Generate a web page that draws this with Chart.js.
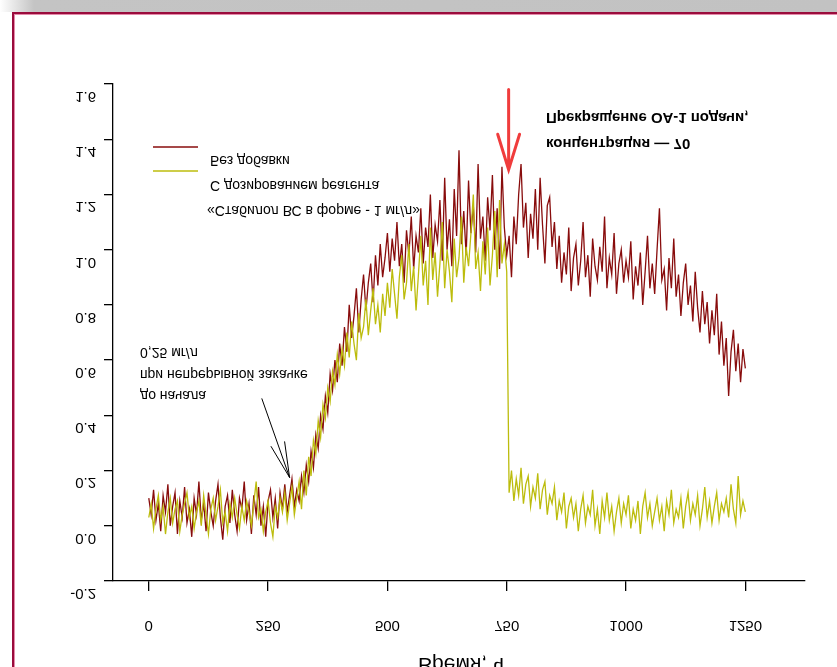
<!DOCTYPE html>
<html lang="ru">
<head>
<meta charset="utf-8">
<title>Оптическая плотность</title>
<script src="https://cdn.jsdelivr.net/npm/chart.js@4/dist/chart.umd.min.js"></script>
<style>
  html, body { margin: 0; padding: 0; background: #fff; overflow: hidden; }
  #band { position: absolute; left: 0; top: 0; width: 837px; height: 12px;
          background: linear-gradient(to right, #fff 0px, #c4c4c4 34px, #c2c2c2 100%); }
  #frame { position: absolute; left: 12px; top: 12px; width: 840px; height: 670px;
           border-left: 2px solid #9a0c3c; border-top: 2px solid #9a0c3c;
           box-shadow: inset 1px 1px 0 #e48aaa; background: #fff; }
  #wrap { position: absolute; left: 0; top: 0; width: 837px; height: 667px; }
</style>
</head>
<body>
<div id="band"></div>
<div id="frame"></div>
<div id="wrap"><canvas id="chart" width="837" height="667"></canvas></div>
<script>
const STEP_H = 5;                       // шаг записи, ч
const X_TICKS = [0, 250, 500, 750, 1000, 1250];
const Y_TICKS = [-0.2, 0.0, 0.2, 0.4, 0.6, 0.8, 1.0, 1.2, 1.4, 1.6];

// без добавки
const BLANK = [
  0.10, 0.04, 0.13, 0.02, 0.08, -0.02, 0.11, 0.05, 0.15, 0.00,
  0.07, 0.12, -0.03, 0.09, 0.03, 0.14, 0.01, 0.06, -0.04, 0.10,
  0.04, 0.16, 0.02, 0.08, -0.02, 0.12, 0.05, 0.00, 0.09, 0.15,
  0.03, -0.05, 0.07, 0.11, 0.01, 0.13, 0.04, -0.02, 0.10, 0.06,
  0.16, 0.02, 0.08, -0.03, 0.11, 0.04, 0.14, 0.00, 0.07, -0.04,
  0.09, 0.13, 0.03, 0.10, -0.01, 0.12, 0.06, 0.15, 0.05, 0.11,
  0.17, 0.07, 0.13, 0.09, 0.18, 0.12, 0.22, 0.16, 0.27, 0.21,
  0.33, 0.28, 0.40, 0.35, 0.47, 0.41, 0.55, 0.49, 0.60, 0.52,
  0.66, 0.58, 0.72, 0.63, 0.80, 0.68, 0.76, 0.86, 0.70, 0.82,
  0.91, 0.78, 0.88, 0.95, 0.81, 0.98, 0.87, 1.02, 0.90, 0.97,
  1.06, 0.92, 1.04, 0.96, 1.10, 0.94, 1.02, 0.88, 1.07, 0.98,
  1.12, 0.93, 1.05, 0.99, 1.15, 0.95, 1.08, 1.01, 1.20, 0.97,
  1.09, 1.03, 1.18, 0.96, 1.26, 1.00, 1.11, 0.94, 1.22, 1.05,
  1.36, 1.02, 1.14, 0.98, 1.25, 1.06, 1.16, 0.99, 1.31, 1.04,
  1.12, 0.96, 1.19, 1.07, 1.27, 1.00, 1.15, 0.93, 1.30, 1.08,
  0.98, 1.05, 0.90, 1.12, 1.02, 1.20, 1.31, 1.08, 1.17, 0.97,
  1.13, 1.04, 1.22, 1.00, 1.26, 1.09, 0.95, 1.16, 1.19, 1.01,
  1.10, 0.93, 1.05, 0.88, 0.99, 0.91, 1.08, 0.85, 0.97, 1.02,
  0.87, 0.96, 1.10, 0.90, 0.98, 0.83, 1.04, 0.94, 0.89, 1.01,
  0.92, 1.12, 0.86, 0.97, 0.91, 1.06, 0.84, 0.95, 1.00, 0.88,
  0.96, 0.90, 1.03, 0.82, 0.94, 0.87, 0.99, 0.80, 0.92, 1.05,
  0.86, 0.95, 0.84, 1.00, 1.15, 0.89, 0.93, 0.78, 0.97, 0.86,
  1.04, 0.83, 0.91, 0.76, 0.88, 0.95, 0.80, 0.87, 0.74, 0.92,
  0.79, 0.70, 0.85, 0.73, 0.81, 0.66, 0.78, 0.69, 0.84, 0.62,
  0.74, 0.58, 0.68, 0.47, 0.63, 0.71, 0.56, 0.66, 0.52, 0.64,
  0.57
];

// с дозированием реагента
const DOSED = [
  0.03, 0.08, -0.01, 0.06, 0.11, 0.02, 0.07, -0.03, 0.05, 0.10,
  0.01, 0.06, 0.09, -0.02, 0.04, 0.08, 0.12, 0.03, 0.07, -0.01,
  0.05, 0.09, 0.00, 0.11, 0.04, -0.03, 0.06, 0.10, 0.02, 0.07,
  0.13, 0.01, 0.05, -0.02, 0.08, 0.03, 0.10, 0.04, -0.01, 0.07,
  0.02, 0.09, 0.05, 0.00, 0.08, 0.16, 0.03, 0.06, -0.02, 0.05,
  0.09, 0.01, -0.04, 0.07, 0.03, 0.10, 0.05, 0.12, 0.02, 0.08,
  0.14, 0.04, 0.10, 0.16, 0.06, 0.20, 0.11, 0.25, 0.18, 0.31,
  0.26, 0.38, 0.32, 0.44, 0.39, 0.50, 0.45, 0.56, 0.51, 0.62,
  0.55, 0.64, 0.58, 0.70, 0.61, 0.74, 0.66, 0.60, 0.77, 0.68,
  0.72, 0.82, 0.69, 0.78, 0.86, 0.73, 0.80, 0.70, 0.84, 0.76,
  0.88, 0.79, 0.93, 0.84, 0.75, 0.90, 0.98, 0.82, 0.88, 1.02,
  0.85, 0.94, 0.78, 0.91, 1.05, 0.87, 0.96, 0.80, 1.08, 0.89,
  0.99, 0.83, 0.95, 1.10, 0.86, 1.00, 0.92, 0.81, 1.04, 0.90,
  0.97, 1.12, 0.88, 1.01, 0.94, 1.06, 1.20, 0.93, 0.99, 0.85,
  1.03, 0.91, 1.08, 0.87, 0.98, 1.14, 0.90, 1.18, 0.95, 1.02,
  0.92, 0.12, 0.20, 0.09, 0.17, 0.11, 0.21, 0.08, 0.15, 0.18,
  0.07, 0.14, 0.10, 0.19, 0.06, 0.13, 0.16, 0.04, 0.11, 0.08,
  0.14, 0.02, 0.09, 0.05, 0.12, -0.01, 0.07, 0.10, 0.03, 0.08,
  -0.02, 0.06, 0.11, 0.01, 0.07, 0.04, 0.13, 0.00, 0.06, -0.03,
  0.09, 0.03, 0.12, 0.02, 0.07, -0.02, 0.05, 0.10, 0.01, 0.08,
  0.04, 0.11, -0.01, 0.06, 0.02, 0.09, -0.03, 0.07, 0.12, 0.03,
  0.08, 0.00, 0.05, 0.10, 0.02, 0.07, -0.02, 0.09, 0.04, 0.13,
  0.01, 0.06, 0.03, 0.10, -0.01, 0.07, 0.12, 0.02, 0.08, 0.04,
  0.11, 0.00, 0.06, 0.14, 0.03, 0.09, 0.01, 0.07, 0.12, 0.02,
  0.08, 0.05, 0.10, 0.03, 0.15, 0.06, 0.01, 0.18, 0.04, 0.09,
  0.05
];

const SERIES_NAMES = ['Без добавки', 'С дозированием реагента', '«Стабилол ВС в форме - 1 мг/л»'];
const NOTE_LEFT = ['0,25 мг/л', 'при непрерывной закачке', 'до начала'];
const NOTE_RIGHT = ['Прекращение ОА-1 подачи,', 'концентрация — 70'];
const X_TITLE = 'Время, ч';

const COL = { blank: '#880c0c', dosed: '#bcbc0c', arrow: '#f03c3c', ink: '#000' };
const FONT = "'Liberation Sans', Arial, sans-serif";

const pts = arr => arr.map((v, i) => ({ x: i * STEP_H, y: v }));
const fixTicks = list => s => { s.ticks = list.map(v => ({ value: v })); };

// текст, отражённый по вертикали относительно своей средней линии
function flipText(ctx, text, x, y, font, align) {
    ctx.save();
    ctx.font = font;
    ctx.fillStyle = COL.ink;
    ctx.textAlign = align || 'left';
    ctx.textBaseline = 'middle';
    ctx.translate(x, y);
    ctx.scale(1, -1);
    ctx.fillText(text, 0, 0);
    ctx.restore();
}

function arrow(ctx, x0, y0, x1, y1, head, spread, color, width) {
    const a = Math.atan2(y1 - y0, x1 - x0);
    ctx.save();
    ctx.strokeStyle = color;
    ctx.lineWidth = width;
    ctx.lineCap = 'round';
    ctx.beginPath();
    ctx.moveTo(x0, y0); ctx.lineTo(x1, y1);
    ctx.moveTo(x1 - head * Math.cos(a - spread), y1 - head * Math.sin(a - spread));
    ctx.lineTo(x1, y1);
    ctx.lineTo(x1 - head * Math.cos(a + spread), y1 - head * Math.sin(a + spread));
    ctx.stroke();
    ctx.restore();
}

const decor = {
    id: 'decor',
    afterDraw(chart) {
        const { ctx, scales: { x, y } } = chart;
        const tickFont = '15px ' + FONT;

        Y_TICKS.forEach(v => flipText(ctx, v.toFixed(1), 96, y.getPixelForValue(v) + 12, tickFont, 'right'));
        X_TICKS.forEach(v => flipText(ctx, String(v), x.getPixelForValue(v), 625, tickFont, 'center'));
        flipText(ctx, X_TITLE, 461, 664, '21px ' + FONT, 'center');

        // легенда
        ctx.save();
        ctx.lineWidth = 1.5;
        ctx.strokeStyle = COL.blank;
        ctx.beginPath(); ctx.moveTo(153, 147); ctx.lineTo(198, 147); ctx.stroke();
        ctx.strokeStyle = COL.dosed;
        ctx.beginPath(); ctx.moveTo(153, 171); ctx.lineTo(198, 171); ctx.stroke();
        ctx.restore();
        const lf = '14px ' + FONT;
        flipText(ctx, SERIES_NAMES[0], 210, 160, lf);
        flipText(ctx, SERIES_NAMES[1], 210, 185, lf);
        flipText(ctx, SERIES_NAMES[2], 207, 210, lf);

        // пояснения
        NOTE_LEFT.forEach((t, i) => flipText(ctx, t, 140, 352 + i * 21.5, lf));
        const bf = 'bold 15px ' + FONT;
        NOTE_RIGHT.forEach((t, i) => flipText(ctx, t, 546, 117 + i * 26, bf));

        arrow(ctx, x.getPixelForValue(237), y.getPixelForValue(0.46),
              x.getPixelForValue(295), y.getPixelForValue(0.175), 36, 0.2, COL.ink, 1);
        arrow(ctx, x.getPixelForValue(754), y.getPixelForValue(1.58),
              x.getPixelForValue(754), y.getPixelForValue(1.29), 37, 0.3, COL.arrow, 3);
    }
};

new Chart(document.getElementById('chart'), {
    type: 'line',
    data: {
        datasets: [
            { label: SERIES_NAMES[0], data: pts(BLANK), borderColor: COL.blank, borderWidth: 1.3, pointRadius: 0, tension: 0, order: 1 },
            { label: SERIES_NAMES[1], data: pts(DOSED), borderColor: COL.dosed, borderWidth: 1.3, pointRadius: 0, tension: 0, order: 0 }
        ]
    },
    options: {
        responsive: false, animation: false,
        layout: { padding: { left: 0, top: 84, right: 32, bottom: 0 } },
        plugins: { legend: { display: false }, tooltip: { enabled: false } },
        scales: {
            x: {
                type: 'linear', min: -75, max: 1375,
                afterBuildTicks: fixTicks(X_TICKS),
                afterFit: s => { s.height = 86; },
                ticks: { display: false },
                grid: { drawOnChartArea: false, tickLength: 10, color: '#000', lineWidth: 1.3 },
                border: { color: '#000', width: 1.3 }
            },
            y: {
                type: 'linear', min: -0.2, max: 1.6,
                afterBuildTicks: fixTicks(Y_TICKS),
                afterFit: s => { s.width = 113; },
                ticks: { display: false },
                grid: { drawOnChartArea: false, tickLength: 9, color: '#000', lineWidth: 1.3 },
                border: { color: '#000', width: 1.3 }
            }
        }
    },
    plugins: [decor]
});
</script>
</body>
</html>
